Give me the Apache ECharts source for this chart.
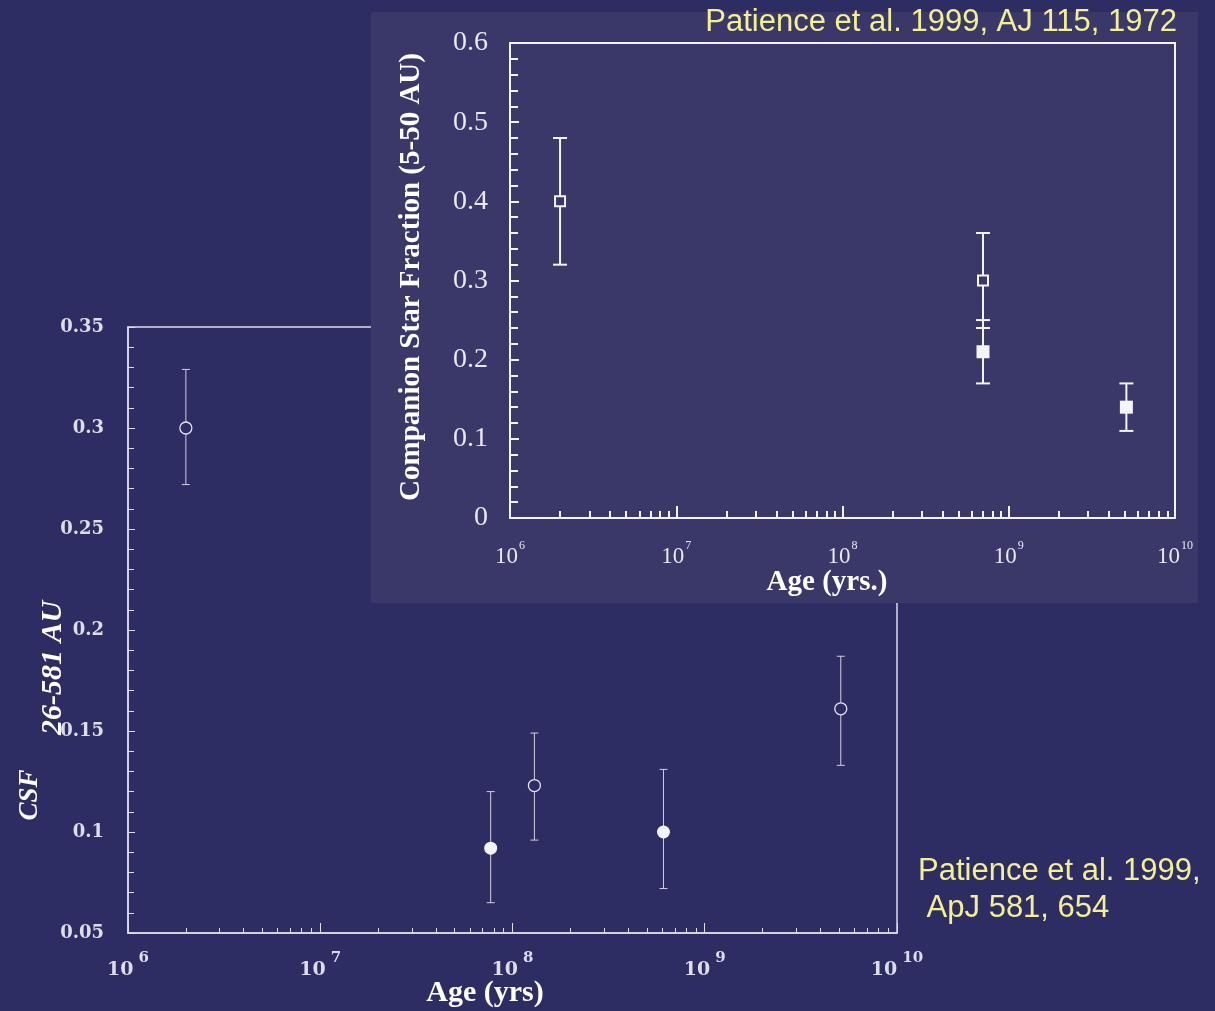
<!DOCTYPE html>
<html>
<head>
<meta charset="utf-8">
<script src="https://cdn.jsdelivr.net/npm/echarts@6/dist/echarts.min.js"></script>
<style>
  html, body { margin: 0; padding: 0; background: #2e2d63; overflow: hidden; }
  #wide  { position: absolute; left: 0; top: 0; width: 1215px; height: 1011px; }
  #close { position: absolute; left: 360px; top: 0; width: 855px; height: 610px; }
</style>
</head>
<body>
<div id="wide"></div>
<div id="close"></div>
<script>
// ---- Companion star fraction, 26-581 AU ----
const wideOpenAge   = [2.0e6, 1.3e8, 5.1e9];
const wideOpenCSF   = [0.300, 0.123, 0.161];
const wideOpenLow   = [0.272, 0.096, 0.133];
const wideOpenHigh  = [0.329, 0.149, 0.187];
const wideFilledAge  = [7.7e7, 6.1e8];
const wideFilledCSF  = [0.092, 0.100];
const wideFilledLow  = [0.065, 0.072];
const wideFilledHigh = [0.120, 0.131];

// ---- Companion star fraction, 5-50 AU ----
const closeOpenAge   = [2.0e6, 7.0e8];
const closeOpenCSF   = [0.40, 0.30];
const closeOpenLow   = [0.32, 0.24];
const closeOpenHigh  = [0.48, 0.36];
const closeFilledAge  = [7.0e8, 5.1e9];
const closeFilledCSF  = [0.21, 0.14];
const closeFilledLow  = [0.17, 0.11];
const closeFilledHigh = [0.25, 0.17];

// ---- axis ticks ----
const ageDecades = [1e6, 1e7, 1e8, 1e9, 1e10];
const ageMinorTicks = [];
ageDecades.slice(0, -1).forEach(d => { for (let k = 2; k <= 9; k++) ageMinorTicks.push(k * d); });

const wideYTicks  = [0.05, 0.1, 0.15, 0.2, 0.25, 0.3, 0.35];
const closeYTicks = [0, 0.1, 0.2, 0.3, 0.4, 0.5, 0.6];

const NAVY = '#2e2d63';
const PANEL = '#393868';
const CITE = '#f4f08e';

function decadeLabel(v) {
  return '{b|10}{s|' + Math.round(Math.log10(v)) + '}';
}

// vertical error bar with caps, positioned through the axes
function errorBars(ages, lows, highs, capHalf, width, color) {
  return {
    type: 'custom',
    silent: true,
    z: 3,
    data: ages.map((a, i) => [a, lows[i], highs[i]]),
    encode: { x: 0, y: [1, 2] },
    renderItem(params, api) {
      const lo = api.coord([api.value(0), api.value(1)]);
      const hi = api.coord([api.value(0), api.value(2)]);
      const style = { stroke: color, lineWidth: width };
      return {
        type: 'group',
        children: [
          { type: 'line', shape: { x1: lo[0], y1: lo[1], x2: hi[0], y2: hi[1] }, style },
          { type: 'line', shape: { x1: lo[0] - capHalf, y1: lo[1], x2: lo[0] + capHalf, y2: lo[1] }, style },
          { type: 'line', shape: { x1: hi[0] - capHalf, y1: hi[1], x2: hi[0] + capHalf, y2: hi[1] }, style }
        ]
      };
    }
  };
}

function label(x, y, text, opts) {
  return {
    type: 'text', x, y, z: 10, rotation: opts.rotation || 0,
    style: Object.assign({
      text, fill: '#ffffff', align: 'center', verticalAlign: 'middle',
      fontFamily: 'Liberation Serif', fontWeight: 'normal', fontStyle: 'normal'
    }, opts.style)
  };
}

// ================= wide-separation chart =================
const wideInk = '#dddde8';
const wideChart = echarts.init(document.getElementById('wide'), null, { renderer: 'canvas' });
wideChart.setOption({
  backgroundColor: NAVY,
  animation: false,
  grid: { left: 128, top: 327, width: 769, height: 606, show: true, borderColor: wideInk, borderWidth: 1.5, backgroundColor: 'transparent' },
  xAxis: [
    {
      type: 'log', logBase: 10, min: 1e6, max: 1e10, position: 'bottom',
      axisLine: { show: true, lineStyle: { color: wideInk, width: 1.5 } },
      axisTick: { inside: true, length: 10, lineStyle: { color: wideInk, width: 1 }, customValues: ageDecades },
      splitLine: { show: false },
      axisLabel: {
        customValues: ageDecades,
        formatter: decadeLabel, margin: 18,
        rich: {
          b: { fontFamily: 'DejaVu Serif', fontWeight: 'bold', fontSize: 19, color: wideInk, lineHeight: 28, verticalAlign: 'bottom' },
          s: { fontFamily: 'DejaVu Serif', fontWeight: 'bold', fontSize: 15, color: wideInk, padding: [0, 0, 14, 5], verticalAlign: 'top' }
        }
      }
    },
    {
      type: 'log', logBase: 10, min: 1e6, max: 1e10, position: 'bottom',
      axisLine: { show: false },
      axisTick: { inside: true, length: 5, lineStyle: { color: wideInk, width: 1 }, customValues: ageMinorTicks },
      axisLabel: { show: false },
      splitLine: { show: false }
    }
  ],
  yAxis: {
    type: 'value', min: 0.05, max: 0.35, interval: 0.05,
    axisLine: { show: true, lineStyle: { color: wideInk, width: 1.5 } },
    axisTick: { inside: true, length: 7, lineStyle: { color: wideInk } },
    minorTick: { show: true, splitNumber: 5, length: 6, lineStyle: { color: wideInk } },
    splitLine: { show: false },
    axisLabel: {
      margin: 24, color: wideInk, fontFamily: 'DejaVu Serif', fontWeight: 'bold', fontSize: 18,
      customValues: wideYTicks
    }
  },
  graphic: [
    label(30, 795, 'CSF', { rotation: Math.PI / 2, style: { fontSize: 27, fontStyle: 'italic', fontWeight: 'bold' } }),
    label(53, 668, '26-581 AU', { rotation: Math.PI / 2, style: { fontSize: 30, fontStyle: 'italic', fontWeight: 'bold' } }),
    label(485, 993, 'Age (yrs)', { style: { fontSize: 30, fontWeight: 'bold' } }),
    label(918, 871, 'Patience et al. 1999,', { style: { fill: CITE, fontFamily: 'Liberation Sans', fontSize: 31, align: 'left' } }),
    label(918, 908, ' ApJ 581, 654', { style: { fill: CITE, fontFamily: 'Liberation Sans', fontSize: 31, align: 'left' } })
  ],
  series: [
    errorBars(wideOpenAge, wideOpenLow, wideOpenHigh, 4, 1, '#cfd0de'),
    errorBars(wideFilledAge, wideFilledLow, wideFilledHigh, 4, 1, '#cfd0de'),
    {
      type: 'scatter', z: 5, symbol: 'circle', symbolSize: 12,
      data: wideOpenAge.map((a, i) => [a, wideOpenCSF[i]]),
      itemStyle: { color: NAVY, borderColor: '#e4e4ee', borderWidth: 1.3, opacity: 1 }
    },
    {
      type: 'scatter', z: 5, symbol: 'circle', symbolSize: 13,
      data: wideFilledAge.map((a, i) => [a, wideFilledCSF[i]]),
      itemStyle: { color: '#f4f4f8', opacity: 1 }
    }
  ]
});

// ================= 5-50 AU panel =================
const ink = '#f4f4f6';
const closeChart = echarts.init(document.getElementById('close'), null, { renderer: 'canvas' });
closeChart.setOption({
  backgroundColor: 'transparent',
  animation: false,
  grid: { left: 150, top: 43, width: 665, height: 475, show: true, borderColor: ink, borderWidth: 2, backgroundColor: 'transparent', z: 2 },
  xAxis: [
    {
      type: 'log', logBase: 10, min: 1e6, max: 1e10, position: 'bottom', z: 2,
      axisLine: { show: true, lineStyle: { color: ink, width: 2 } },
      axisTick: { inside: true, length: 12, lineStyle: { color: ink, width: 2 }, customValues: ageDecades },
      splitLine: { show: false },
      axisLabel: {
        customValues: ageDecades,
        formatter: decadeLabel, margin: 22,
        rich: {
          b: { fontFamily: 'Liberation Serif', fontSize: 23, color: '#e8e8ee', lineHeight: 28, verticalAlign: 'bottom' },
          s: { fontFamily: 'Liberation Serif', fontSize: 12, color: '#e8e8ee', padding: [0, 0, 14, 1], verticalAlign: 'top' }
        }
      }
    },
    {
      type: 'log', logBase: 10, min: 1e6, max: 1e10, position: 'bottom', z: 2,
      axisLine: { show: false },
      axisTick: { inside: true, length: 7, lineStyle: { color: ink, width: 2 }, customValues: ageMinorTicks },
      axisLabel: { show: false },
      splitLine: { show: false }
    }
  ],
  yAxis: {
    type: 'value', min: 0, max: 0.6, interval: 0.1, z: 2,
    axisLine: { show: true, lineStyle: { color: ink, width: 2 } },
    axisTick: { inside: true, length: 9, lineStyle: { color: ink, width: 2 } },
    minorTick: { show: true, splitNumber: 5, length: 8, lineStyle: { color: ink, width: 2 } },
    splitLine: { show: false },
    axisLabel: { margin: 22, color: '#e8e8ee', fontFamily: 'Liberation Serif', fontSize: 28, customValues: closeYTicks }
  },
  graphic: [
    { type: 'rect', z: -10, shape: { x: 11, y: 12, width: 827, height: 591 }, style: { fill: PANEL } },
    label(817, 22, 'Patience et al. 1999, AJ 115, 1972', { style: { fill: CITE, fontFamily: 'Liberation Sans', fontSize: 31, align: 'right' } }),
    label(467, 583, 'Age (yrs.)', { style: { fontSize: 29, fontWeight: 'bold' } }),
    label(52, 277, 'Companion Star Fraction (5-50 AU)', { rotation: Math.PI / 2, style: { fontSize: 29, fontWeight: 'bold' } })
  ],
  series: [
    errorBars(closeOpenAge, closeOpenLow, closeOpenHigh, 7, 2, ink),
    errorBars(closeFilledAge, closeFilledLow, closeFilledHigh, 7, 2, ink),
    {
      type: 'scatter', z: 5, symbol: 'rect', symbolSize: 10,
      data: closeOpenAge.map((a, i) => [a, closeOpenCSF[i]]),
      itemStyle: { color: PANEL, borderColor: ink, borderWidth: 2, opacity: 1 }
    },
    {
      type: 'scatter', z: 5, symbol: 'rect', symbolSize: 13,
      data: closeFilledAge.map((a, i) => [a, closeFilledCSF[i]]),
      itemStyle: { color: ink, opacity: 1 }
    }
  ]
});
</script>
</body>
</html>
